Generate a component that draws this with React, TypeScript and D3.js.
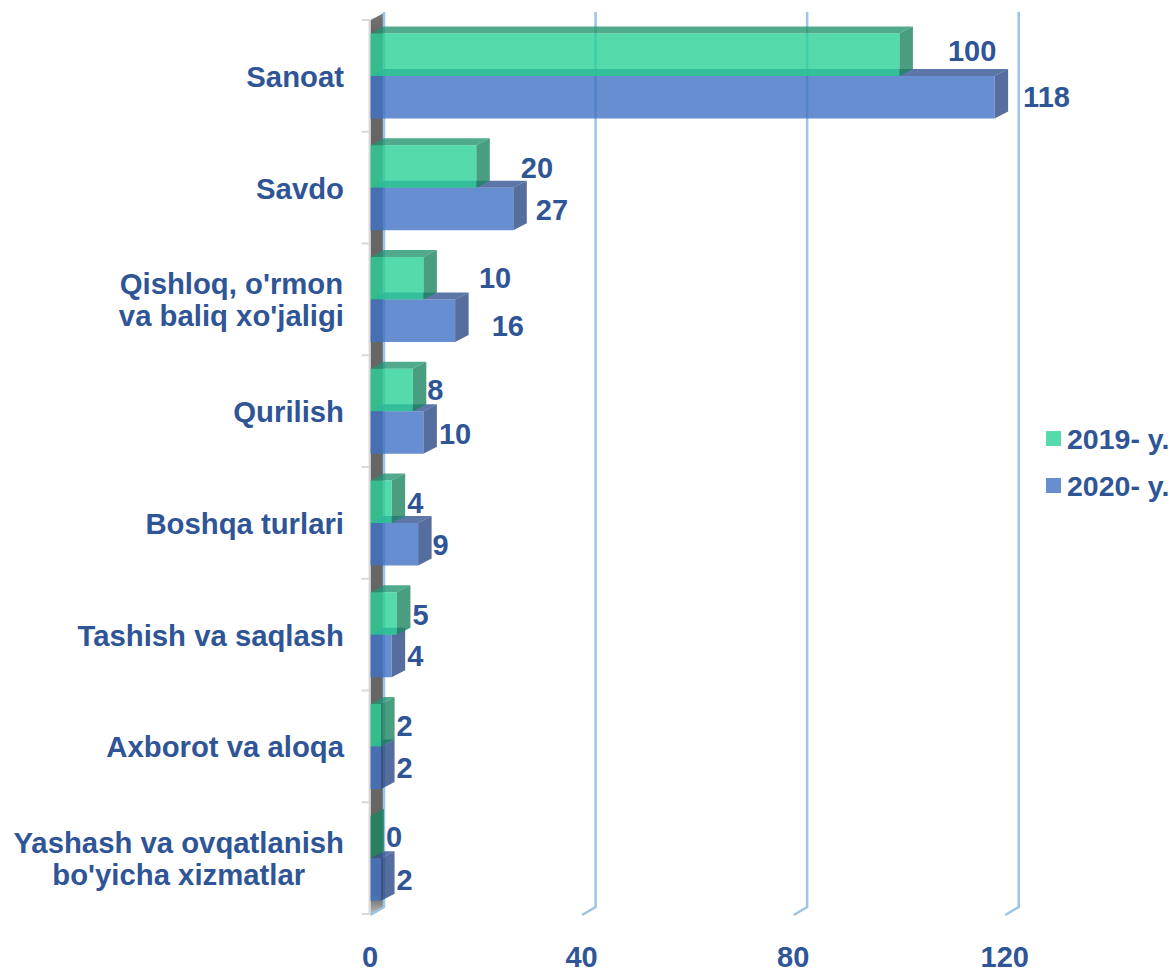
import React, { useEffect, useRef } from 'react';
import * as d3 from 'd3';

const categories = ['Sanoat', 'Savdo', "Qishloq, o'rmon\nva baliq xo'jaligi", 'Qurilish', 'Boshqa turlari', 'Tashish va saqlash', 'Axborot va aloqa', "Yashash va ovqatlanish\nbo'yicha xizmatlar"];
const values2019 = [100, 20, 10, 8, 4, 5, 2, 0];
const values2020 = [118, 27, 16, 10, 9, 4, 2, 2];
const seriesNames = ['2019- y.', '2020- y.'];
const ticks = [0, 40, 80, 120];

// manually dragged data labels in the original, [dx, dy] from the bar end
const nudge2019 = [[49, -4], [45, 1], [56, 0], [15, 0], [16, 1], [16, 1], [16, 1], [16, 0]];
const nudge2020 = [[29, 0], [23, 1], [37, 5], [16, 1], [15, 1], [16, 0], [16, 0], [16, 0]];

const depthX = 13.5;
const depthY = 7;
const textColor = '#2F5597';
const colors = {
  green: { front: '#2AD196', top: '#249670', side: '#1D8660' },
  blue: { front: '#4172C4', top: '#355492', side: '#2C4A86' },
};

const App = () => {
  const svgRef = useRef<SVGSVGElement>(null);

  useEffect(() => {
    const svg = d3.select(svgRef.current);
    svg.selectAll('*').remove();
    svg.style('font-family', '"Liberation Sans", Arial, sans-serif').style('font-weight', 700);

    const x = d3.scaleLinear().domain([0, 120]).range([370.5, 1005.2]);
    const y = d3.scaleBand().domain(categories).range([20, 914]);
    const inner = d3.scaleBand().domain(seriesNames).range([13.5, 98.5]);
    const bottom = 914;

    const grad = svg.append('defs').append('linearGradient')
      .attr('id', 'wall').attr('x1', 0).attr('x2', 0).attr('y1', 0).attr('y2', 1);
    grad.append('stop').attr('offset', '0%').attr('stop-color', '#777');
    grad.append('stop').attr('offset', '2%').attr('stop-color', '#666');
    grad.append('stop').attr('offset', '98%').attr('stop-color', '#666');
    grad.append('stop').attr('offset', '100%').attr('stop-color', '#bbb');

    // side wall + value axis line
    svg.append('polygon')
      .attr('points', [[x(0), 20], [x(0) + depthX, 13], [x(0) + depthX, bottom - depthY], [x(0), bottom]].join(' '))
      .attr('fill', 'url(#wall)');
    svg.append('line')
      .attr('x1', x(0) - 1).attr('x2', x(0) - 1).attr('y1', 20).attr('y2', bottom)
      .attr('stroke', '#d9d9d9').attr('stroke-width', 2);

    // category tick marks
    const tickYs = categories.map(c => y(c)!).concat(bottom);
    svg.append('g').selectAll('line').data(tickYs).enter().append('line')
      .attr('x1', x(0) - 9).attr('x2', x(0) - 1)
      .attr('y1', d => d).attr('y2', d => d)
      .attr('stroke', '#d9d9d9').attr('stroke-width', 2);

    // gridlines on the back wall, with the little floor segment
    svg.append('g').selectAll('path').data(ticks).enter().append('path')
      .attr('d', d => `M${x(d) + depthX},12V${bottom - depthY}L${x(d)},${bottom + 1}`)
      .attr('fill', 'none').attr('stroke', '#9DC3E6').attr('stroke-width', 2.5);

    // one 3d bar: top, side, front
    const drawBar = (g: any, value: number, top: number, h: number, c: { front: string; top: string; side: string }) => {
      const x0 = x(0);
      const x1 = x(value);
      if (value > 0) {
        g.append('polygon')
          .attr('points', [[x0, top], [x0 + depthX, top - depthY], [x1 + depthX, top - depthY], [x1, top]].join(' '))
          .attr('fill', c.top).attr('fill-opacity', 0.8);
      }
      g.append('polygon')
        .attr('points', [[x1, top], [x1 + depthX, top - depthY], [x1 + depthX, top + h - depthY], [x1, top + h]].join(' '))
        .attr('fill', c.side).attr('fill-opacity', 0.8);
      if (value > 0) {
        g.append('rect')
          .attr('x', x0).attr('y', top).attr('width', x1 - x0).attr('height', h)
          .attr('fill', c.front).attr('fill-opacity', 0.8);
      }
    };

    const bars = svg.append('g');
    categories.forEach((cat, i) => {
      const g = bars.append('g');
      const band = y(cat)!;
      drawBar(g, values2020[i], band + inner(seriesNames[1])!, inner.bandwidth(), colors.blue);
      drawBar(g, values2019[i], band + inner(seriesNames[0])!, inner.bandwidth(), colors.green);
    });

    // data labels
    const labels = svg.append('g').attr('fill', textColor).attr('font-size', 29);
    categories.forEach((cat, i) => {
      const band = y(cat)!;
      labels.append('text')
        .attr('x', x(values2019[i]) + nudge2019[i][0] - 0.5)
        .attr('y', band + inner(seriesNames[0])! + inner.bandwidth() / 2 + 10 + nudge2019[i][1])
        .text(values2019[i]);
      labels.append('text')
        .attr('x', x(values2020[i]) + nudge2020[i][0] - 0.5)
        .attr('y', band + inner(seriesNames[1])! + inner.bandwidth() / 2 + 10 + nudge2020[i][1])
        .text(values2020[i]);
    });

    // category labels, wrapped ones are centred as a block
    const catLabels = svg.append('g').attr('fill', textColor).attr('font-size', 29.3);
    categories.forEach(cat => {
      const lines = cat.split('\n');
      const center = y(cat)! + y.bandwidth() / 2;
      const texts = lines.map((line, j) =>
        catLabels.append('text')
          .attr('y', center + 11 + (j - (lines.length - 1) / 2) * 32)
          .text(line));
      const w = d3.max(texts, t => (t.node() as SVGTextElement).getComputedTextLength())!;
      texts.forEach(t => t.attr('x', 344 - w / 2).attr('text-anchor', 'middle'));
    });

    // value axis
    const axis = svg.append('g')
      .attr('transform', 'translate(-1, 967)')
      .call(d3.axisBottom(x).tickValues(ticks).tickSize(0).tickPadding(0));
    axis.select('.domain').remove();
    axis.selectAll('text')
      .attr('y', 0).attr('dy', 0)
      .attr('fill', textColor).attr('font-size', 29)
      .attr('font-family', '"Liberation Sans", Arial, sans-serif').attr('font-weight', 700);

    // legend
    const legend = svg.append('g').selectAll('g').data(seriesNames).enter().append('g')
      .attr('transform', (d, i) => `translate(1046, ${431 + i * 47})`);
    legend.append('rect')
      .attr('width', 15).attr('height', 15)
      .attr('fill', (d, i) => (i === 0 ? colors.green.front : colors.blue.front))
      .attr('fill-opacity', 0.8);
    legend.append('text')
      .attr('x', 21).attr('y', 18)
      .attr('fill', textColor).attr('font-size', 28.5)
      .text(d => d);
  }, []);

  return <svg ref={svgRef} width={1170} height={970} style={{ position: 'absolute', left: 0, top: 0, display: 'block' }}></svg>;
};

export default App;
